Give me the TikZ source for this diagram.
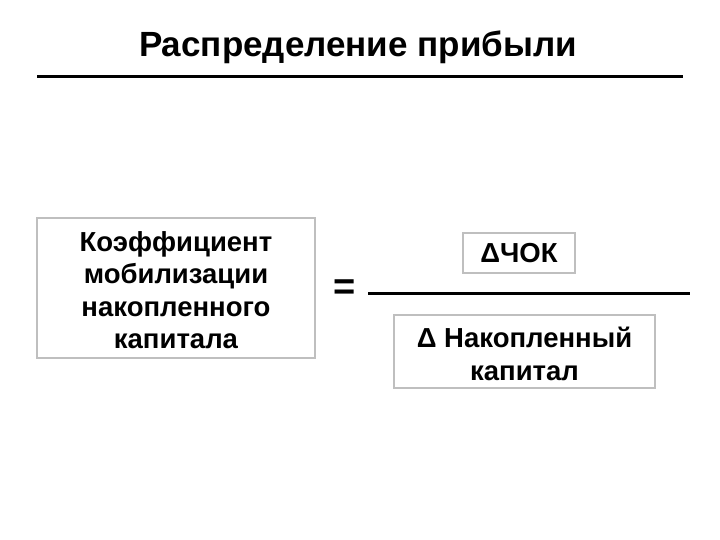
\documentclass[tikz,border=0pt]{standalone}
\usepackage{fontspec}
\setmainfont{Liberation Sans}
\begin{document}
\begin{tikzpicture}[x=1bp,y=-1bp,
  txt/.style={font=\bfseries\fontsize{27.5bp}{32.5bp}\selectfont, align=center, inner sep=0pt},
  gbox/.style={draw=black!25, line width=1.5bp, inner sep=0pt},
  rule/.style={line width=3bp, black}]
\useasboundingbox[fill=white] (0,0) rectangle (720,540);
\node[font=\bfseries\fontsize{35bp}{40bp}\selectfont, inner sep=0pt] (title) at (358,47) {Распределение прибыли};
\coordinate (tl) at (37,77);
\coordinate (tr) at (683,77);
\draw[rule] (tl) -- (tr);
\node[gbox, minimum width=278bp, minimum height=140bp] (left) at (176,288) {};
\node[txt] (lt) at (176,290) {Коэффициент\\мобилизации\\накопленного\\капитала};
\node[font=\bfseries\fontsize{38bp}{40bp}\selectfont, inner sep=0pt] (eq) at (345,290) {=};
\coordinate (fl) at (368,293);
\coordinate (fr) at (690,293);
\draw[rule] (fl) -- (fr);
\node[gbox, minimum width=112bp, minimum height=40bp] (top) at (519,253) {};
\node[txt] (tt) at (top.center) {ΔЧОК};
\node[gbox, minimum width=261bp, minimum height=73bp] (bot) at (524.5,351.5) {};
\node[txt, text depth=0pt] (bt) at (524.5,354) {Δ Накопленный\\капитал};
\end{tikzpicture}
\end{document}
